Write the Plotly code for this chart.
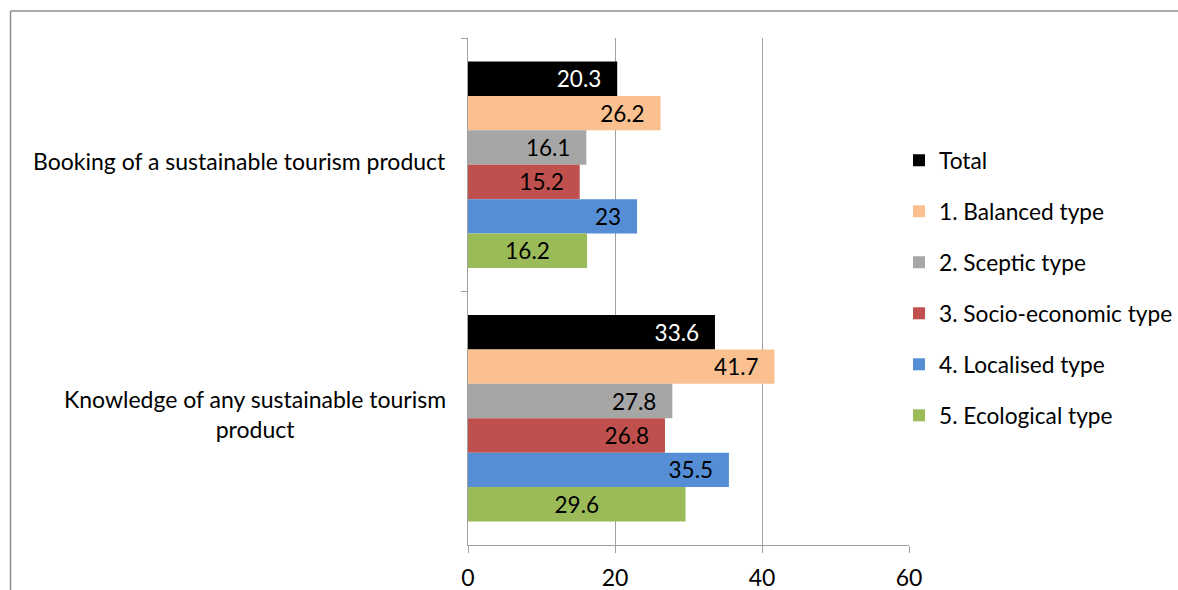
import plotly.graph_objects as go

categories = ["Booking of a sustainable tourism product",
              "Knowledge of any sustainable tourism<br>product"]
series_names = ["Total", "1. Balanced type", "2. Sceptic type",
                "3. Socio-economic type", "4. Localised type", "5. Ecological type"]
total = [20.3, 33.6]
balanced = [26.2, 41.7]
sceptic = [16.1, 27.8]
socio = [15.2, 26.8]
localised = [23, 35.5]
ecological = [16.2, 29.6]
x_ticks = [0, 20, 40, 60]

series_values = [total, balanced, sceptic, socio, localised, ecological]
colors = ["#000000", "#FAC090", "#A6A6A6", "#C0504D", "#558ED5", "#9BBB59"]
label_colors = ["#FFFFFF", "#000000", "#000000", "#000000", "#000000", "#000000"]
anchors = ["end", "end", "end", "end", "end", "middle"]

FONT = "Lato"
FS = 23
FS_LEG = 22.7
FS_LBL = 22.5

# plot area in pixels
L, R, T, B = 468, 909, 38, 545
W, H = 1178, 590
pw, ph = R - L, B - T

fig = go.Figure()
for i, (name, vals) in enumerate(zip(series_names, series_values)):
    tmpl = "%{x}\u00a0\u00a0\u200a" if anchors[i] == "end" else "%{x}"
    fig.add_trace(go.Bar(
        y=categories, x=vals, name=name, orientation="h",
        marker=dict(color=colors[i], line=dict(width=0)),
        texttemplate=tmpl, textposition="inside", insidetextanchor=anchors[i],
        textangle=0, constraintext="none",
        textfont=dict(family=FONT, size=FS_LBL, color=label_colors[i]),
        legendgroup="g%d" % i, hoverinfo="skip",
    ))

def px_x(px):
    return (px - L) / pw

def px_y(py):
    return (B - py) / ph

shapes = [
    dict(type="line", xref="paper", yref="paper", x0=px_x(10.5), x1=px_x(10.5),
         y0=px_y(11), y1=px_y(600), line=dict(color="#8C8C8C", width=1.5)),
    dict(type="line", xref="paper", yref="paper", x0=px_x(10.5), x1=px_x(1190),
         y0=px_y(11), y1=px_y(11), line=dict(color="#8C8C8C", width=1.5)),
]

annotations = [
    dict(text=categories[0], xref="paper", yref="y", x=0, y=categories[0],
         xanchor="right", yanchor="middle", xshift=-20, yshift=4, align="center",
         showarrow=False, font=dict(family=FONT, size=FS, color="#000000")),
    dict(text=categories[1], xref="paper", yref="y", x=0, y=categories[1],
         xanchor="right", yanchor="middle", xshift=-20, yshift=4, align="center",
         showarrow=False, font=dict(family=FONT, size=FS, color="#000000")),
]

fig.update_layout(
    width=W, height=H,
    margin=dict(l=L, r=W - R, t=T, b=H - B, pad=0, autoexpand=False),
    paper_bgcolor="#FFFFFF", plot_bgcolor="#FFFFFF",
    barmode="group", bargap=0.185, bargroupgap=0,
    font=dict(family=FONT, size=FS, color="#000000"),
    showlegend=True,
    legend=dict(x=px_x(899), y=px_y(139), xanchor="left", yanchor="top",
                traceorder="grouped", tracegroupgap=18.5,
                font=dict(family=FONT, size=FS_LEG, color="#000000"),
                bgcolor="rgba(0,0,0,0)", borderwidth=0),
    xaxis=dict(range=[0, 60], tickvals=x_ticks, ticktext=[str(v) for v in x_ticks],
               showgrid=True, gridcolor="#A0A0A0", gridwidth=1.3,
               zeroline=False, showline=True, linecolor="#A0A0A0", linewidth=1.3,
               ticks="outside", ticklen=7, tickcolor="#A0A0A0", tickwidth=1.3,
               ticklabelstandoff=5,
               tickfont=dict(family=FONT, size=FS, color="#000000"), fixedrange=True),
    yaxis=dict(autorange="reversed", showticklabels=False, tickson="boundaries",
               ticks="outside", ticklen=6, tickcolor="#A0A0A0", tickwidth=1.3,
               showline=True, linecolor="#A0A0A0", linewidth=1.3,
               showgrid=False, zeroline=False, fixedrange=True),
    shapes=shapes, annotations=annotations,
)

fig.write_html("out.html", config={"displayModeBar": False})
